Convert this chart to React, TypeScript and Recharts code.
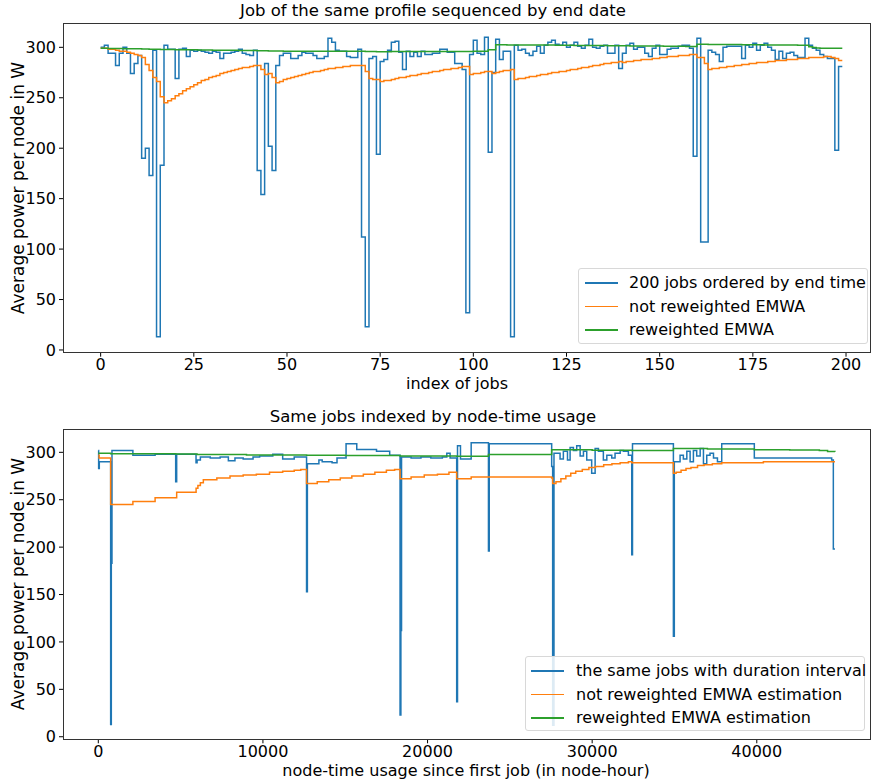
import { LineChart, Line, XAxis, YAxis } from "recharts";

const FONT = "'DejaVu Sans', sans-serif";
const BLUE = "#1f77b4";
const ORANGE = "#ff7f0e";
const GREEN = "#2ca02c";

// top chart: one value per job index (step after)
const JOB_POWER = [
  300, 302, 294, 294, 282, 294, 300, 294, 274, 284,
  292, 190, 200, 173, 297, 13, 183, 302, 298, 298,
  269, 298, 299, 291, 297, 296, 297, 296, 295, 294,
  296, 295, 289, 294, 294, 295, 296, 298, 294, 293,
  292, 297, 178, 154, 284, 202, 178, 282, 292, 294,
  294, 289, 289, 292, 295, 294, 294, 292, 289, 289,
  291, 309, 305, 297, 296, 296, 291, 290, 290, 298,
  112, 23, 289, 291, 194, 286, 288, 297, 305, 306,
  295, 278, 296, 291, 295, 291, 296, 293, 293, 294,
  294, 298, 298, 295, 295, 284, 284, 278, 37, 293,
  307, 294, 293, 310, 196, 275, 308, 288, 296, 296,
  13, 302, 297, 298, 294, 292, 296, 301, 294, 302,
  305, 307, 303, 302, 305, 300, 302, 305, 301, 299,
  302, 308, 300, 299, 301, 302, 294, 294, 302, 279,
  294, 302, 304, 298, 300, 300, 294, 291, 299, 302,
  293, 293, 298, 299, 299, 301, 302, 302, 299, 192,
  309, 107, 107, 297, 295, 293, 286, 300, 301, 301,
  301, 301, 289, 302, 300, 304, 297, 302, 304, 300,
  297, 288, 296, 289, 294, 295, 292, 290, 290, 309,
  302, 299, 297, 293, 291, 289, 289, 198, 281, 281,
];

const JOB_EMWA = [
  299, 299, 298, 298, 297, 296, 296, 295, 294, 293,
  292, 290, 283, 277, 270, 266, 251, 245, 247, 249,
  252, 254, 257, 259, 261, 263, 265, 267, 268, 270,
  271, 272, 274, 275, 276, 277, 278, 279, 280, 280,
  281, 282, 282, 278, 273, 274, 270, 265, 266, 268,
  269, 270, 271, 272, 273, 274, 275, 276, 276, 277,
  278, 279, 279, 280, 280, 281, 281, 282, 282, 282,
  282, 276, 269, 268, 268, 266, 267, 267, 268, 269,
  270, 270, 271, 272, 272, 273, 274, 274, 275, 276,
  276, 277, 278, 278, 279, 279, 280, 281, 281, 273,
  274, 274, 275, 276, 276, 274, 275, 276, 277, 277,
  278, 268, 269, 269, 270, 271, 271, 272, 273, 273,
  274, 275, 275, 276, 276, 277, 278, 278, 279, 280,
  280, 281, 282, 282, 283, 284, 284, 285, 285, 286,
  285, 286, 286, 287, 287, 288, 288, 288, 289, 289,
  290, 290, 291, 291, 291, 292, 292, 292, 293, 293,
  290, 290, 284, 278, 279, 279, 280, 280, 281, 281,
  282, 282, 283, 283, 284, 284, 285, 285, 285, 286,
  286, 287, 287, 287, 288, 288, 288, 289, 289, 289,
  290, 290, 290, 290, 291, 291, 290, 289, 287, 287,
];

const JOB_EMWA_REWEIGHTED = [
  299.0, 299.0, 298.9, 298.9, 298.8, 298.8, 298.7, 298.7, 298.6, 298.6,
  298.5, 298.4, 298.3, 298.2, 298.1, 298.0, 297.9, 297.9, 297.8, 297.8,
  297.7, 297.7, 297.6, 297.6, 297.5, 297.5, 297.4, 297.4, 297.3, 297.3,
  297.2, 297.2, 297.1, 297.1, 297.0, 297.0, 297.0, 296.9, 296.9, 296.9,
  296.8, 296.8, 296.6, 296.5, 296.5, 296.4, 296.3, 296.3, 296.3, 296.2,
  296.2, 296.2, 296.2, 296.1, 296.1, 296.1, 296.1, 296.0, 296.0, 296.0,
  296.1, 296.2, 296.2, 296.2, 296.2, 296.2, 296.1, 296.1, 296.1, 296.1,
  296.0, 295.8, 295.8, 295.8, 295.7, 295.7, 295.7, 295.7, 295.8, 295.9,
  295.9, 295.9, 295.9, 295.9, 295.9, 295.9, 295.9, 295.9, 295.9, 295.9,
  295.9, 295.9, 295.9, 295.9, 295.9, 295.9, 295.9, 295.9, 295.8, 295.8,
  296.0, 296.0, 296.0, 296.2, 297.5, 297.5, 302.5, 302.5, 302.5, 302.4,
  302.4, 302.4, 302.4, 302.4, 302.4, 302.4, 302.4, 302.4, 302.3, 302.3,
  302.2, 302.2, 302.1, 302.1, 302.0, 302.0, 302.0, 301.9, 301.9, 301.9,
  301.8, 301.8, 301.8, 301.7, 301.7, 301.7, 301.6, 301.6, 301.6, 301.5,
  301.5, 301.5, 301.4, 301.4, 301.4, 301.3, 301.3, 301.3, 301.2, 301.2,
  301.2, 301.1, 301.1, 301.1, 301.0, 301.0, 301.0, 300.9, 300.9, 300.9,
  303.0, 303.0, 303.0, 302.9, 302.9, 302.9, 302.8, 302.8, 302.8, 302.7,
  302.7, 302.7, 302.6, 302.6, 302.6, 302.5, 302.5, 302.5, 302.4, 302.4,
  302.4, 302.3, 302.3, 302.3, 302.2, 302.2, 302.2, 302.1, 302.1, 302.1,
  300.5, 299.8, 299.4, 299.2, 299.1, 299.1, 299.1, 299.1, 299.1, 299.1,
];

// bottom chart: step breakpoints in node-hours
const USAGE_JOB_X = [
  0, 20, 60, 750, 790, 830, 2100, 3450, 4700, 4760, 5936, 6000, 6200, 6800,
  7400, 7900, 8300, 8800, 9400, 9800, 10600, 11200, 11900, 12650, 12700,
  13400, 13600, 14200, 14500, 15050, 15700, 16900, 17700, 18330, 18380,
  18420, 19000, 19600, 20200, 20900, 21170, 21370, 21770, 21820, 22000,
  22650, 23700, 23750, 27540, 27600, 27680, 28050, 28250, 28500, 28660,
  28860, 29060, 29270, 29470, 29670, 29970, 30180, 30380, 30680, 30890,
  31190, 31390, 31700, 31900, 32200, 32403, 32450, 34934, 34990, 35340,
  35540, 35750, 35950, 36150, 36350, 36560, 36760, 36960, 37160, 37370,
  37610, 37870, 39850, 44550, 44650, 44750,
];
const USAGE_JOB_POWER = [
  302, 283, 290, 13, 183, 302, 297, 298, 269, 298, 289, 292, 295, 294,
  295, 291, 294, 293, 295, 296, 298, 293, 295, 153, 288,
  292, 290, 289, 294, 309, 303, 301, 297, 23, 112,
  295, 294, 295, 294, 295, 299, 294, 37, 307, 293,
  310, 196, 309, 285, 12, 299, 293, 301, 292, 305,
  302, 307, 296, 301, 292, 278, 304, 301, 292, 297,
  294, 299, 302, 301, 297, 192, 309, 106, 290, 297,
  293, 301, 290, 302, 296, 304, 288, 297, 299, 294,
  290, 309, 294, 292, 198, 198,
];

const USAGE_EMWA_X = [
  0, 50, 750, 2100, 3450, 4760, 5940, 6050, 6200, 6380, 7200, 8000, 8800,
  9600, 10400, 11200, 11900, 12300, 12650, 13300, 14000, 14700, 15400,
  16100, 16800, 17500, 18000, 18330, 19000, 19800, 20600, 21300, 21770,
  22650, 23700, 27540, 27600, 27800, 28100, 28400, 28700, 29000, 29400,
  29800, 30200, 30700, 31200, 31700, 32200, 32403, 34934, 35100, 35400,
  35700, 36000, 36400, 36800, 37300, 37870, 40400, 44750,
];
const USAGE_EMWA = [
  297, 294, 245, 248, 252, 258, 262, 265, 268, 271, 273, 275, 276,
  277, 279, 280, 281, 282, 267, 269, 271, 273, 275,
  277, 279, 281, 282, 272, 274, 276, 277, 279, 272,
  274, 274, 273, 267, 269, 272, 275, 278, 280, 282,
  284, 285, 287, 288, 289, 290, 289, 278, 279, 281,
  283, 284, 286, 287, 288, 289, 290, 290,
];

const USAGE_RW_X = [
  0, 750, 4700, 6000, 9000, 12650, 15000, 18330, 21770, 23700, 27540,
  30000, 32400, 34934, 37000, 39850, 42000, 43800, 44300, 44750,
];
const USAGE_RW = [
  299, 298.5, 298.2, 297.8, 297.3, 296.8, 296.6, 296.2, 295.8, 297.8, 302.8,
  302.3, 301.8, 304, 303.5, 302.8, 302.4, 301.8, 300.8, 300.5,
];

const JOB_TICKS = [0, 25, 50, 75, 100, 125, 150, 175, 200];
const USAGE_TICKS = [0, 10000, 20000, 30000, 40000];
const POWER_TICKS = [0, 50, 100, 150, 200, 250, 300];

const jobData = JOB_POWER.map((p, i) => ({
  job: i,
  power: p,
  emwa: JOB_EMWA[i],
  rw: JOB_EMWA_REWEIGHTED[i],
}));
const usageJobs = USAGE_JOB_X.map((x, i) => ({ x, y: USAGE_JOB_POWER[i] }));
const usageEmwa = USAGE_EMWA_X.map((x, i) => ({ x, y: USAGE_EMWA[i] }));
const usageRw = USAGE_RW_X.map((x, i) => ({ x, y: USAGE_RW[i] }));

const tickStyle = { fontSize: 16, fill: "#000", fontFamily: FONT };

const Txt = ({ x, y, text, size = 16, rotate = false }: any) => (
  <div
    style={{
      position: "absolute",
      left: x,
      top: y,
      transform: `translate(-50%, -50%)${rotate ? " rotate(-90deg)" : ""}`,
      whiteSpace: "nowrap",
      fontSize: size,
      fontFamily: FONT,
      color: "#000",
      lineHeight: 1,
    }}
  >
    {text}
  </div>
);

const Frame = ({ left, top, width, height }: any) => (
  <div
    style={{
      position: "absolute",
      left,
      top,
      width,
      height,
      boxSizing: "border-box",
      border: "1px solid #333",
      pointerEvents: "none",
    }}
  />
);

const LegendBox = ({ left, top, width, height, items, lineX, textX }: any) => (
  <div
    style={{
      position: "absolute",
      left,
      top,
      width,
      height,
      boxSizing: "border-box",
      border: "1px solid #d8d8d8",
      borderRadius: 3,
      background: "rgba(255,255,255,0.85)",
      fontFamily: FONT,
      fontSize: 16,
    }}
  >
    {items.map((it: any, i: number) => (
      <div key={it.label}>
        <div
          style={{
            position: "absolute",
            left: lineX,
            top: 13 + i * 23.5,
            width: 33,
            height: 1.5,
            background: it.color,
          }}
        />
        <div
          style={{
            position: "absolute",
            left: textX,
            top: 5 + i * 23.5,
            lineHeight: "18px",
            whiteSpace: "nowrap",
          }}
        >
          {it.label}
        </div>
      </div>
    ))}
  </div>
);

export default function App() {
  return (
    <div style={{ position: "absolute", left: 0, top: 0, width: 878, height: 780, background: "#fff" }}>
      <div style={{ position: "absolute", left: 0, top: 0 }}>
        <LineChart width={878} height={400} data={jobData} margin={{ top: 22.5, right: 7, bottom: 0, left: 0 }}>
          <XAxis
            dataKey="job"
            type="number"
            domain={[-10.1, 206.7]}
            ticks={JOB_TICKS}
            allowDataOverflow
            axisLine={false}
            tickSize={4}
            tickMargin={2}
            tickLine={{ stroke: "#000" }}
            tick={tickStyle}
            height={47.3}
          />
          <YAxis
            type="number"
            domain={[-2.7, 324.6]}
            ticks={POWER_TICKS}
            allowDataOverflow
            axisLine={false}
            tickSize={4}
            tickMargin={3}
            tickLine={{ stroke: "#000" }}
            tick={tickStyle}
            width={63}
          />
          <Line type="stepAfter" dataKey="power" stroke={BLUE} strokeWidth={1.5} dot={false} isAnimationActive={false} />
          <Line type="stepAfter" dataKey="emwa" stroke={ORANGE} strokeWidth={1.5} dot={false} isAnimationActive={false} />
          <Line type="stepAfter" dataKey="rw" stroke={GREEN} strokeWidth={1.5} dot={false} isAnimationActive={false} />
        </LineChart>
      </div>
      <div style={{ position: "absolute", left: 0, top: 400 }}>
        <LineChart width={878} height={380} margin={{ top: 29, right: 7, bottom: 0, left: 0 }}>
          <XAxis
            dataKey="x"
            type="number"
            domain={[-2145, 46938]}
            ticks={USAGE_TICKS}
            allowDataOverflow
            axisLine={false}
            tickSize={4}
            tickMargin={2}
            tickLine={{ stroke: "#000" }}
            tick={tickStyle}
            height={40.7}
          />
          <YAxis
            dataKey="y"
            type="number"
            domain={[-2.7, 324.6]}
            ticks={POWER_TICKS}
            allowDataOverflow
            axisLine={false}
            tickSize={4}
            tickMargin={3}
            tickLine={{ stroke: "#000" }}
            tick={tickStyle}
            width={63}
          />
          <Line data={usageJobs} type="stepAfter" dataKey="y" stroke={BLUE} strokeWidth={1.5} dot={false} isAnimationActive={false} />
          <Line data={usageEmwa} type="stepAfter" dataKey="y" stroke={ORANGE} strokeWidth={1.5} dot={false} isAnimationActive={false} />
          <Line data={usageRw} type="stepAfter" dataKey="y" stroke={GREEN} strokeWidth={1.5} dot={false} isAnimationActive={false} />
        </LineChart>
      </div>

      <Frame left={63} top={22.5} width={808} height={330.5} />
      <Frame left={63} top={429} width={808} height={310.5} />

      <Txt x={433} y={11} text="Job of the same profile sequenced by end date" size={16.5} />
      <Txt x={457} y={384} text="index of jobs" />
      <Txt x={18} y={188} text="Average power per node in W" size={17} rotate />
      <Txt x={433} y={417} text="Same jobs indexed by node-time usage" size={16.5} />
      <Txt x={466} y={771} text="node-time usage since first job (in node-hour)" />
      <Txt x={18} y={584} text="Average power per node in W" size={17} rotate />

      <LegendBox
        left={578}
        top={268}
        width={290}
        height={76}
        lineX={6}
        textX={50}
        items={[
          { label: "200 jobs ordered by end time", color: BLUE },
          { label: "not reweighted EMWA", color: ORANGE },
          { label: "reweighted EMWA", color: GREEN },
        ]}
      />
      <LegendBox
        left={525}
        top={656}
        width={340}
        height={75}
        lineX={5}
        textX={50}
        items={[
          { label: "the same jobs with duration interval", color: BLUE },
          { label: "not reweighted EMWA estimation", color: ORANGE },
          { label: "reweighted EMWA estimation", color: GREEN },
        ]}
      />
    </div>
  );
}
